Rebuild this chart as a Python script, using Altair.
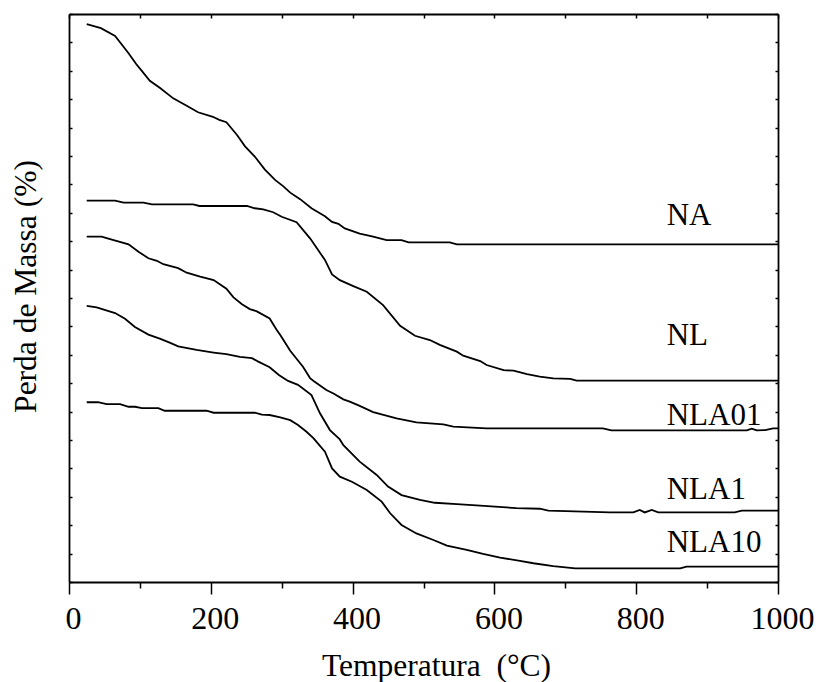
import altair as alt
import pandas as pd

# --- data (Temperatura in °C, mass in plot units 0-20) ---
na_T = [25, 45, 65, 84, 95, 103, 114, 128, 147, 166, 182, 203, 212, 222, 237, 248, 262, 276,
        291, 302, 312, 326, 342, 361, 371, 380, 389, 410, 429, 448, 469, 479, 537, 547, 1000]
na_m = [19.64, 19.50, 19.23, 18.62, 18.23, 17.99, 17.65, 17.40, 17.03, 16.77, 16.54, 16.38,
        16.27, 16.19, 15.74, 15.35, 14.98, 14.53, 14.15, 13.94, 13.71, 13.48, 13.16, 12.88,
        12.68, 12.61, 12.45, 12.27, 12.16, 12.04, 12.04, 11.96, 11.96, 11.89, 11.89]

nl_T = [25, 65, 77, 105, 117, 175, 184, 251, 262, 274, 288, 300, 321, 340, 361, 371, 382, 401,
        420, 443, 467, 488, 509, 523, 547, 556, 580, 589, 613, 627, 646, 664, 683, 707, 716, 1000]
nl_m = [13.43, 13.43, 13.36, 13.36, 13.30, 13.30, 13.24, 13.24, 13.16, 13.12, 13.02, 12.86,
        12.67, 12.10, 11.34, 10.83, 10.63, 10.42, 10.22, 9.75, 9.02, 8.67, 8.52, 8.35, 8.11,
        7.97, 7.78, 7.64, 7.46, 7.44, 7.32, 7.23, 7.17, 7.15, 7.09, 7.09]

nla01_T = [25, 46, 58, 84, 98, 112, 124, 133, 154, 166, 185, 204, 222, 232, 244, 255, 265, 283,
           293, 298, 312, 330, 340, 345, 363, 373, 387, 396, 410, 429, 462, 490, 528, 542, 589,
           753, 765, 956, 963, 970, 982, 993, 1000]
nla01_m = [12.16, 12.16, 12.07, 11.89, 11.63, 11.40, 11.31, 11.19, 11.05, 10.89, 10.75, 10.63,
           10.33, 10.02, 9.78, 9.61, 9.53, 9.28, 8.87, 8.70, 8.14, 7.58, 7.18, 7.08, 6.76, 6.64,
           6.43, 6.35, 6.20, 5.98, 5.76, 5.62, 5.55, 5.47, 5.41, 5.41, 5.34, 5.34, 5.40, 5.34,
           5.35, 5.41, 5.41]

nla1_T = [25, 39, 48, 65, 79, 93, 112, 128, 142, 154, 180, 204, 222, 241, 258, 267, 283, 296,
          309, 323, 342, 354, 368, 382, 387, 410, 434, 450, 469, 495, 516, 547, 580, 631, 664,
          676, 763, 796, 805, 812, 822, 831, 939, 949, 1000]
nla1_m = [9.72, 9.67, 9.60, 9.47, 9.27, 8.98, 8.71, 8.57, 8.43, 8.30, 8.17, 8.08, 8.02, 7.93,
          7.88, 7.76, 7.56, 7.29, 7.08, 6.94, 6.58, 5.94, 5.35, 5.02, 4.82, 4.24, 3.77, 3.36,
          3.06, 2.89, 2.79, 2.74, 2.69, 2.60, 2.58, 2.51, 2.45, 2.45, 2.54, 2.45, 2.54, 2.45,
          2.45, 2.51, 2.51]

nla10_T = [25, 41, 53, 72, 84, 93, 103, 126, 135, 194, 204, 262, 272, 283, 298, 312, 323, 335,
           345, 361, 371, 382, 399, 420, 441, 453, 469, 490, 514, 533, 561, 584, 608, 636, 655,
           683, 714, 862, 871, 1000]
nla10_m = [6.33, 6.33, 6.26, 6.26, 6.17, 6.17, 6.12, 6.12, 6.03, 6.03, 5.96, 5.96, 5.89, 5.88,
           5.80, 5.70, 5.53, 5.29, 5.06, 4.59, 4.00, 3.71, 3.53, 3.24, 2.83, 2.42, 2.01, 1.71,
           1.48, 1.28, 1.13, 0.99, 0.86, 0.74, 0.66, 0.56, 0.48, 0.48, 0.54, 0.54]

label_names = ["NA", "NL", "NLA01", "NLA1", "NLA10"]
label_T = [843, 843, 843, 843, 843]
label_m = [12.57, 8.35, 5.53, 2.92, 1.06]

x_ticks = [0, 100, 200, 300, 400, 500, 600, 700, 800, 900, 1000]
y_ticks = list(range(0, 21))

series = {
    "NA": (na_T, na_m),
    "NL": (nl_T, nl_m),
    "NLA01": (nla01_T, nla01_m),
    "NLA1": (nla1_T, nla1_m),
    "NLA10": (nla10_T, nla10_m),
}
rows = []
for name, (T, m) in series.items():
    for i, (t, v) in enumerate(zip(T, m)):
        rows.append({"serie": name, "T": t, "m": v, "ordem": i})
df = pd.DataFrame(rows)
labels_df = pd.DataFrame({"serie": label_names, "T": label_T, "m": label_m})

FONT = "Liberation Serif"
xscale = alt.Scale(domain=[0, 1000], nice=False, zero=False)
yscale = alt.Scale(domain=[0, 20], nice=False, zero=False)

lines = alt.Chart(df).mark_line(color="black", strokeWidth=1.8).encode(
    x=alt.X("T:Q", scale=xscale, axis=alt.Axis(
        orient="bottom", values=x_ticks, title="Temperatura\u00a0\u00a0(°C)",
        labelExpr="datum.value % 200 === 0 ? '' + datum.value : ''",
        tickSize={"condition": {"test": "datum.value % 200 === 0", "value": 12}, "value": 6},
        labelBaseline="alphabetic", labelPadding=34, labelFlush=False, labelOverlap=False,
        labelOffset=4, labelFontSize=32,
        titleBaseline="alphabetic", titleY=93, titleX=367,
        grid=False)),
    y=alt.Y("m:Q", scale=yscale, axis=alt.Axis(
        orient="left", values=y_ticks, labels=False, title="Perda de Massa (%)",
        tickSize={"expr": "-3"}, titleAngle=-90, titleBaseline="alphabetic",
        titleX=-34, titleY=272, grid=False)),
    detail="serie:N",
    order="ordem:Q",
)

texts = alt.Chart(labels_df).mark_text(
    font=FONT, fontSize=31, color="black", align="left", baseline="alphabetic"
).encode(
    x=alt.X("T:Q", scale=xscale, axis=alt.Axis(
        orient="top", values=x_ticks, labels=False, title=None, tickSize={"expr": "-4"},
        grid=False)),
    y=alt.Y("m:Q", scale=yscale, axis=alt.Axis(
        orient="right", values=y_ticks, labels=False, title=None, tickSize={"expr": "-3"},
        grid=False)),
    text="serie:N",
)

chart = alt.layer(lines, texts).resolve_axis(x="independent", y="independent").properties(
    width=709, height=568,
    autosize=alt.AutoSizeParams(type="none"),
    padding={"left": 69, "top": 14, "right": 43, "bottom": 100},
    background="white",
).configure(font=FONT).configure_view(strokeWidth=0).configure_axis(
    labelFont=FONT, titleFont=FONT, labelFontSize=32, titleFontSize=31.5,
    labelColor="black", titleColor="black", titleFontWeight="normal",
    domainColor="black", tickColor="black", domainWidth=1.8, tickWidth=1.5,
)

chart.save("out.html", embed_options={"renderer": "svg", "actions": False})
